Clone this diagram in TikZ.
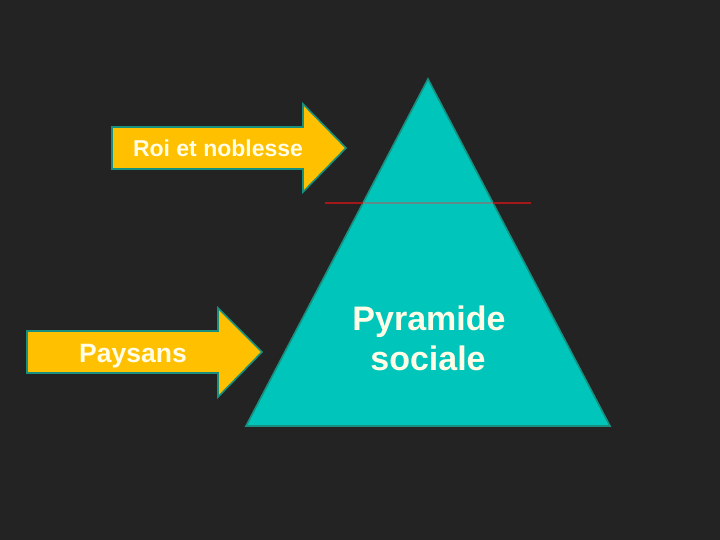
\documentclass[tikz,border=0pt]{standalone}
\usepackage{fontspec}
\setmainfont{Liberation Sans}
\definecolor{fond}{HTML}{232323}
\definecolor{turq}{HTML}{00C5BB}
\definecolor{turqfonce}{HTML}{17907F}
\definecolor{jaune}{HTML}{FFC000}
\definecolor{creme}{HTML}{FFFDE6}
\definecolor{rouge}{HTML}{A31818}
\definecolor{grisligne}{HTML}{5E8C89}
\begin{document}
\begin{tikzpicture}[x=1pt,y=-1pt,line join=miter,
    fleche/.style={fill=jaune,draw=turqfonce,line width=1.6pt},
    etiq/.style={text=creme,font=\bfseries\fontsize{23}{28}\selectfont,anchor=base,inner sep=0pt}]
  \fill[fond] (0,0) rectangle (720,540);
  \useasboundingbox (0,0) rectangle (720,540);
  % pyramide
  \coordinate (sommet) at (428,79);
  \coordinate (basedroite) at (610,426);
  \coordinate (basegauche) at (246,426);
  \draw[fill=turq,draw=turqfonce,line width=1.6pt] (sommet) -- (basedroite) -- (basegauche) -- cycle;
  \coordinate (traitg) at (325,203);
  \coordinate (traitd) at (531,203);
  \draw[rouge,line width=1.6pt] (traitg) -- (traitd);
  \begin{scope}
    \clip (sommet) -- (basedroite) -- (basegauche) -- cycle;
    \draw[grisligne,line width=1.6pt] (traitg) -- (traitd);
  \end{scope}
  % fleches
  \draw[fleche] (112,127) -- (303,127) -- (303,104) -- (346,148) -- (303,192)
        -- (303,169) -- (112,169) -- cycle;
  \draw[fleche] (27,331) -- (218,331) -- (218,308) -- (262,352) -- (218,397)
        -- (218,373) -- (27,373) -- cycle;
  \node[etiq] (roi) at (218,157) {Roi et noblesse};
  \node[etiq,font=\bfseries\fontsize{26.5}{30}\selectfont] (paysans) at (133,362) {Paysans};
  \node[etiq,font=\bfseries\fontsize{34}{40}\selectfont] (pyr) at (429,330) {Pyramide};
  \node[etiq,font=\bfseries\fontsize{34}{40}\selectfont] (soc) at (428,370) {sociale};
\end{tikzpicture}
\end{document}
